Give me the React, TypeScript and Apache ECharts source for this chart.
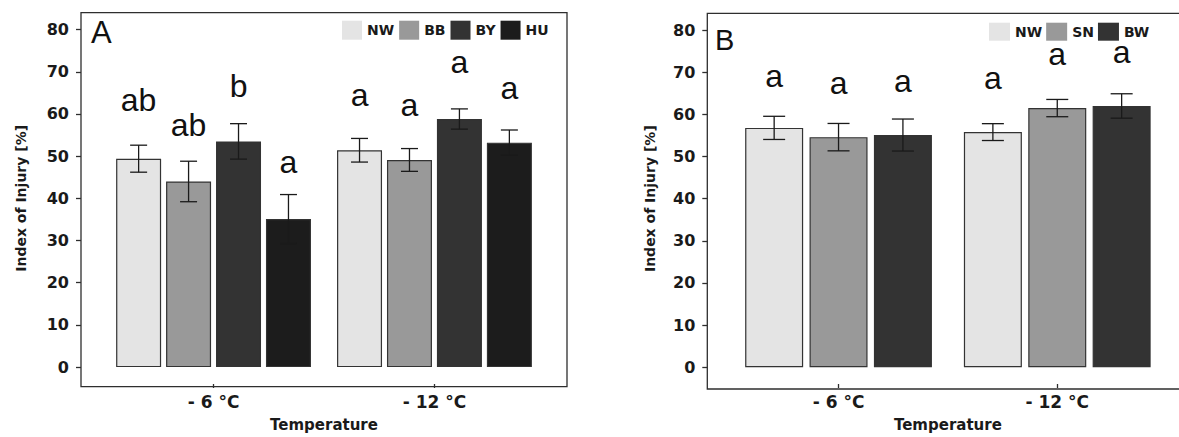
import React, { useEffect, useRef } from "react";
import * as echarts from "echarts";

// ---------- data ----------
const categories = ["- 6 °C", "- 12 °C"];
const yTicks = [0, 10, 20, 30, 40, 50, 60, 70, 80];

// Panel A
const groupsA = ["NW", "BB", "BY", "HU"];
const aNW = [49.4, 51.4];
const aNWErr = [3.2, 2.8];
const aBB = [44.0, 49.1];
const aBBErr = [4.8, 2.7];
const aBY = [53.5, 58.8];
const aBYErr = [4.2, 2.4];
const aHU = [35.1, 53.2];
const aHUErr = [5.8, 3.0];
const aNWLetters = ["ab", "a"];
const aBBLetters = ["ab", "a"];
const aBYLetters = ["b", "a"];
const aHULetters = ["a", "a"];
const aNWLetterY = [60.6, 61.9];
const aBBLetterY = [54.7, 59.6];
const aBYLetterY = [64.1, 69.6];
const aHULetterY = [45.9, 63.5];

// Panel B
const groupsB = ["NW", "SN", "BW"];
const bNW = [56.8, 55.8];
const bNWErr = [2.75, 2.0];
const bSN = [54.6, 61.5];
const bSNErr = [3.25, 2.05];
const bBW = [55.1, 62.0];
const bBWErr = [3.8, 2.9];
const bNWLetters = ["a", "a"];
const bSNLetters = ["a", "a"];
const bBWLetters = ["a", "a"];
const bNWLetterY = [66.6, 65.9];
const bSNLetterY = [64.9, 71.8];
const bBWLetterY = [65.4, 72.2];

// ---------- styles ----------
const W = 1179;
const H = 437;
const axisFont = "DejaVu Sans";
const letterFont = "Liberation Sans";
const letterSize = 32;
const textColor = "#1a1a1a";
const lineColor = "#2e2e2e";
const fillA = ["#e4e4e4", "#999999", "#333333", "#1c1c1c"];
const fillB = ["#e4e4e4", "#999999", "#333333"];

const panelA = { boxL: 81, boxT: 12.7, boxR: 567, boxB: 386.7, bw: 45, gapPct: 0.11, cap: 8.5 };
const panelB = { boxL: 707.3, boxT: 13.3, boxR: 1188.5, boxB: 389, bw: 58, gapPct: 0.11, cap: 11 };

function gridFor(p: any) {
  const unit = (p.boxR - p.boxL) / 2.2;
  const left = p.boxL + 0.1 * unit;
  const right = p.boxR - 0.1 * unit;
  return { left, right: W - right, top: p.boxT, bottom: H - p.boxB, offset: left - p.boxL };
}

function errRender(i: number, n: number, p: any) {
  return (params: any, api: any) => {
    const cat = api.value(0);
    const lo = api.coord([cat, api.value(1)]);
    const hi = api.coord([cat, api.value(2)]);
    const slot = p.bw * (1 + p.gapPct);
    const x = lo[0] + (i - (n - 1) / 2) * slot;
    const st = { stroke: "#1a1a1a", lineWidth: 1.3 };
    return {
      type: "group",
      children: [
        { type: "line", shape: { x1: x, y1: lo[1], x2: x, y2: hi[1] }, style: st },
        { type: "line", shape: { x1: x - p.cap, y1: lo[1], x2: x + p.cap, y2: lo[1] }, style: st },
        { type: "line", shape: { x1: x - p.cap, y1: hi[1], x2: x + p.cap, y2: hi[1] }, style: st },
      ],
    };
  };
}

function letterRender(i: number, n: number, p: any, letters: string[]) {
  return (params: any, api: any) => {
    const cat = api.value(0);
    const pt = api.coord([cat, api.value(1)]);
    const slot = p.bw * (1 + p.gapPct);
    const x = pt[0] + (i - (n - 1) / 2) * slot;
    return {
      type: "text",
      x,
      y: pt[1] - letterSize * 0.3465,
      style: {
        text: letters[params.dataIndex],
        fontFamily: letterFont,
        fontSize: letterSize,
        fill: "#111",
        align: "center",
        verticalAlign: "middle",
      },
    };
  };
}

function buildPanel(idx: number, p: any, names: string[], fills: string[], means: number[][], errs: number[][], letters: string[][], letterY: number[][]) {
  const g = gridFor(p);
  const n = names.length;
  const series: any[] = [];
  names.forEach((name, i) => {
    series.push({
      type: "bar",
      name,
      xAxisIndex: idx,
      yAxisIndex: idx,
      data: means[i],
      barWidth: p.bw,
      barGap: Math.round(p.gapPct * 100) + "%",
      itemStyle: { color: fills[i], borderColor: "#333", borderWidth: 1.2 },
      silent: true,
    });
  });
  names.forEach((name, i) => {
    series.push({
      type: "custom",
      name: "err-" + idx + "-" + name,
      xAxisIndex: idx,
      yAxisIndex: idx,
      data: means[i].map((m, k) => [k, m - errs[i][k], m + errs[i][k]]),
      encode: { x: 0, y: [1, 2] },
      renderItem: errRender(i, n, p),
      z: 5,
      silent: true,
    });
    series.push({
      type: "custom",
      name: "let-" + idx + "-" + name,
      xAxisIndex: idx,
      yAxisIndex: idx,
      data: letterY[i].map((v, k) => [k, v]),
      encode: { x: 0, y: 1 },
      renderItem: letterRender(i, n, p, letters[i]),
      z: 6,
      silent: true,
    });
  });
  return { g, series };
}

export default function App() {
  const ref = useRef<HTMLDivElement>(null);
  useEffect(() => {
    if (!ref.current) return;
    const chart = echarts.init(ref.current, undefined, { renderer: "svg" });
    const A = buildPanel(0, panelA, groupsA, fillA,
      [aNW, aBB, aBY, aHU], [aNWErr, aBBErr, aBYErr, aHUErr],
      [aNWLetters, aBBLetters, aBYLetters, aHULetters], [aNWLetterY, aBBLetterY, aBYLetterY, aHULetterY]);
    const B = buildPanel(1, panelB, groupsB, fillB,
      [bNW, bSN, bBW], [bNWErr, bSNErr, bBWErr],
      [bNWLetters, bSNLetters, bBWLetters], [bNWLetterY, bSNLetterY, bBWLetterY]);

    const tickStyle = { color: lineColor, width: 1.3 };
    const mkX = (i: number) => ({
      type: "category",
      gridIndex: i,
      data: categories,
      axisLine: { show: false, onZero: false },
      axisTick: { show: true, alignWithLabel: true, length: 4, lineStyle: tickStyle },
      axisLabel: { margin: 9, fontFamily: axisFont, fontWeight: "bold", fontSize: 17, color: textColor },
      splitLine: { show: false },
      name: "Temperature",
      nameLocation: "middle",
      nameGap: 33,
      nameTextStyle: { fontFamily: axisFont, fontWeight: "bold", fontSize: 15, color: textColor },
    });
    const mkY = (i: number, offset: number, gap: number) => ({
      type: "value",
      gridIndex: i,
      min: -4,
      max: 84,
      offset,
      axisLine: { show: false },
      axisTick: { show: true, length: 5, customValues: yTicks, lineStyle: tickStyle },
      axisLabel: { customValues: yTicks, margin: 12, fontFamily: axisFont, fontWeight: "bold", fontSize: 16, color: textColor },
      splitLine: { show: false },
      name: "Index of Injury [%]",
      nameLocation: "middle",
      nameGap: gap,
      nameTextStyle: { fontFamily: axisFont, fontWeight: "bold", fontSize: 14, color: textColor },
    });

    const frame = (p: any) => ({
      type: "rect",
      shape: { x: p.boxL, y: p.boxT, width: p.boxR - p.boxL, height: p.boxB - p.boxT },
      style: { fill: "none", stroke: lineColor, lineWidth: 1.3 },
      silent: true,
    });

    const legendBase = {
      orient: "horizontal",
      icon: "rect",
      selectedMode: false,
      itemStyle: { borderWidth: 0 },
      textStyle: { fontFamily: axisFont, fontWeight: "bold", fontSize: 14, color: textColor },
      padding: 0,
    };

    chart.setOption({
      animation: false,
      backgroundColor: "#ffffff",
      grid: [
        { left: A.g.left, right: A.g.right, top: A.g.top, bottom: A.g.bottom, containLabel: false },
        { left: B.g.left, right: B.g.right, top: B.g.top, bottom: B.g.bottom, containLabel: false },
      ],
      xAxis: [mkX(0), mkX(1)],
      yAxis: [mkY(0, A.g.offset, 53), mkY(1, B.g.offset, 50)],
      legend: [
        { ...legendBase, data: groupsA, left: 342, top: 20.7, itemWidth: 20, itemHeight: 19, itemGap: 5 },
        { ...legendBase, data: groupsB, left: 989, top: 22.7, itemWidth: 21, itemHeight: 18, itemGap: 4 },
      ],
      graphic: [
        frame(panelA),
        frame(panelB),
        {
          type: "text", x: 91, y: 32,
          style: { text: "A", fontFamily: letterFont, fontSize: 31, fill: "#111", align: "left", verticalAlign: "middle" },
          silent: true,
        },
        {
          type: "text", x: 715, y: 39.5,
          style: { text: "B", fontFamily: letterFont, fontSize: 29, fill: "#111", align: "left", verticalAlign: "middle" },
          silent: true,
        },
      ],
      series: [...A.series, ...B.series],
    });
    return () => chart.dispose();
  }, []);
  return (
    <div
      ref={ref}
      style={{ position: "absolute", left: 0, top: 0, width: W, height: H, background: "#fff" }}
    />
  );
}
